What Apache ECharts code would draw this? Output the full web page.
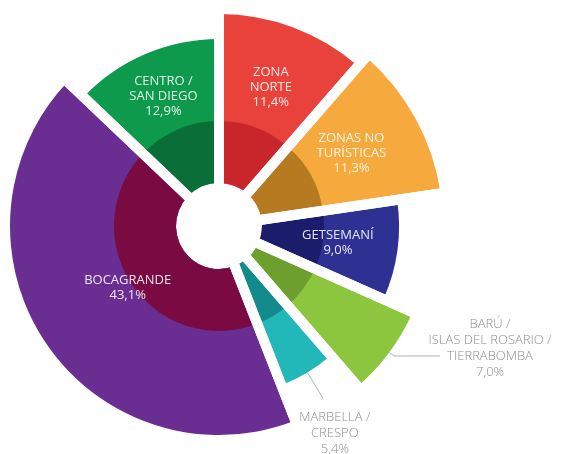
<!DOCTYPE html>
<html>
<head>
<meta charset="utf-8">
<title>Zonas</title>
<script src="https://cdn.jsdelivr.net/npm/echarts@6/dist/echarts.min.js"></script>
<style>
  html, body { margin: 0; padding: 0; background: #fff; }
  #chart { width: 561px; height: 454px; }
</style>
</head>
<body>
<div id="chart"></div>
<script>
// slices clockwise starting at 12 o'clock
const zones = ['ZONA\nNORTE', 'ZONAS NO\nTURÍSTICAS', 'GETSEMANÍ', 'BARÚ /\nISLAS DEL ROSARIO /\nTIERRABOMBA', 'MARBELLA /\nCRESPO', 'BOCAGRANDE', 'CENTRO /\nSAN DIEGO']
const shares = [11.4, 11.3, 9.0, 7.0, 5.4, 43.1, 12.9]

// look of every slice (same order as zones)
const lightColors = ['#e8423b', '#f6a93c', '#2e3192', '#8cc63f', '#22b7b8', '#6a2d91', '#0e9a4c']
const darkColors = ['#c9262b', '#b67b20', '#1b1c6c', '#6c9f2d', '#138a8c', '#7a0a42', '#0a6e37']
const outerRadius = [212, 227, 180, 212, 171, 209, 187]
const labelRadius = [148, 151, 120, 0, 0, 110, 141]
const outsideLabel = [false, false, false, true, true, false, false]

const CENTER = [219, 226]
const HOLE = 43
const INNER = 105

const pct = v => v.toFixed(1).replace('.', ',') + '%'

const chart = echarts.init(document.getElementById('chart'))

const series = []

// one pie per slice (each slice has its own radius), only slice i is visible
function slicePie(i, z, color, withLabel) {
  const marbella = i === 4
  return {
    type: 'pie',
    z: z,
    silent: true,
    animation: false,
    avoidLabelOverlap: false,
    center: CENTER,
    radius: [HOLE, outerRadius[i]],
    startAngle: 90,
    itemStyle: { borderWidth: 0 },
    label: {
      position: 'outside',
      distanceToLabelLine: 4,
      padding: marbella ? [70, 0, 0, 0] : [0, 0, 16, 0],
      formatter: p => p.name.split('\n').concat(pct(p.value)).map(s => '{t|' + s + '}').join('\n'),
      rich: {
        t: {
          width: marbella ? 16 : 92,
          align: 'center',
          fontFamily: 'Open Sans',
          fontWeight: 300,
          fontSize: 13,
          lineHeight: 16,
          color: '#8e8e8e'
        }
      }
    },
    labelLine: {
      length: marbella ? 30 : 6,
      length2: marbella ? 0 : 46,
      lineStyle: { color: '#aab2c8', width: 1 }
    },
    data: shares.map((v, j) => ({
      name: zones[j],
      value: v,
      itemStyle: { color: j === i ? color : 'transparent' },
      label: { show: withLabel && j === i },
      labelLine: { show: withLabel && j === i }
    }))
  }
}

// light part
zones.forEach((zone, i) => series.push(slicePie(i, 1, lightColors[i], false)))

// dark inner ring
series.push({
  type: 'pie',
  z: 2,
  silent: true,
  animation: false,
  center: CENTER,
  radius: [HOLE, INNER],
  startAngle: 90,
  itemStyle: { borderWidth: 0 },
  label: { show: false },
  labelLine: { show: false },
  data: shares.map((v, j) => ({ name: zones[j], value: v, itemStyle: { color: darkColors[j] } }))
})

// white gaps between slices + inside labels
series.push({
  type: 'pie',
  z: 3,
  silent: true,
  animation: false,
  avoidLabelOverlap: false,
  center: CENTER,
  radius: [0, 229],
  startAngle: 90,
  itemStyle: { color: 'transparent', borderColor: '#fff', borderWidth: 10 },
  label: {
    position: 'inside',
    fontFamily: 'Open Sans',
    fontSize: 13,
    lineHeight: 15,
    color: 'rgba(255,255,255,0.88)',
    formatter: p => p.name + '\n' + pct(p.value)
  },
  labelLine: { show: false },
  labelLayout: function (params) {
    const r = labelRadius[params.dataIndex]
    if (!r) return {}
    const rect = params.labelRect
    const vx = rect.x + rect.width / 2 - CENTER[0]
    const vy = rect.y + rect.height / 2 - CENTER[1]
    const d = Math.sqrt(vx * vx + vy * vy)
    return { dx: vx * (r / d - 1), dy: vy * (r / d - 1) }
  },
  data: shares.map((v, j) => ({ name: zones[j], value: v, label: { show: !outsideLabel[j] } }))
})

// outside labels on top of the gap lines
zones.forEach((zone, i) => {
  if (outsideLabel[i]) series.push(slicePie(i, 4, 'transparent', true))
})

chart.setOption({
  backgroundColor: '#fff',
  series: series
})
</script>
</body>
</html>
